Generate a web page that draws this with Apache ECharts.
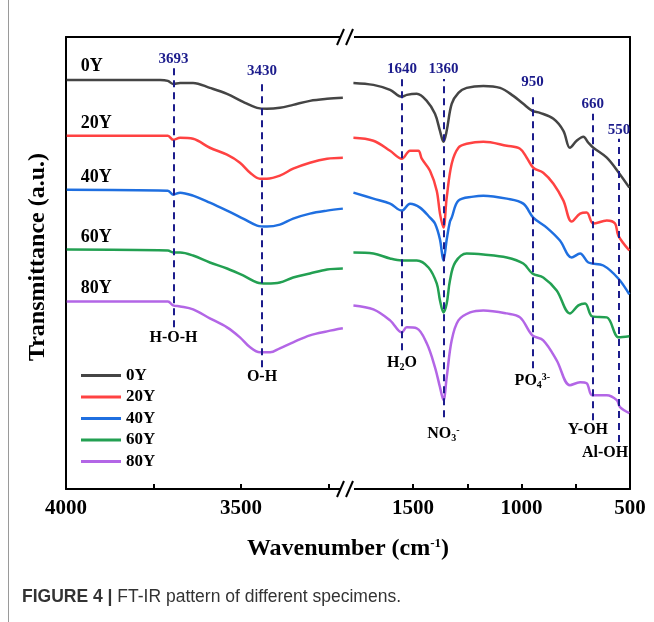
<!DOCTYPE html>
<html>
<head>
<meta charset="utf-8">
<script src="https://cdn.jsdelivr.net/npm/echarts@6/dist/echarts.min.js"></script>
<style>
  html, body { margin: 0; padding: 0; background: #fff; }
  #main { width: 654px; height: 622px; }
</style>
</head>
<body>
<div id="main"></div>
<script>
// FT-IR spectra, transmittance in arbitrary units, offset per specimen
var names = ['0Y', '20Y', '40Y', '60Y', '80Y'];
var colors = ['#454545', '#ff4242', '#1f6fe0', '#23a052', '#b366e6'];

// high wavenumber part (4000 - 3200)
var hi0Y = [[3998,410],[3731,410],[3709,409],[3694,406],[3674,407],[3637,407],[3589,402],[3540,396],[3494,388],[3454,382],[3426,381],[3389,382],[3351,385],[3303,389],[3254,391],[3209,392]];
var hi20Y = [[3998,354],[3709,354],[3694,350],[3674,352],[3637,351],[3589,342],[3540,335],[3503,327],[3474,317],[3446,311],[3426,311],[3389,314],[3351,321],[3303,327],[3254,331],[3209,332]];
var hi40Y = [[3998,300],[3709,299],[3694,295],[3674,297],[3637,294],[3589,287],[3540,279],[3494,271],[3454,264],[3426,263],[3389,265],[3351,271],[3303,276],[3254,279],[3209,281]];
var hi60Y = [[3998,240],[3709,239],[3694,237],[3674,237],[3637,234],[3589,227],[3540,221],[3494,214],[3454,207],[3426,206],[3389,207],[3351,212],[3303,216],[3254,220],[3209,221]];
var hi80Y = [[3998,188],[3709,188],[3694,184],[3674,183],[3637,180],[3589,171],[3540,162],[3503,152],[3474,142],[3446,137],[3417,137],[3389,141],[3351,147],[3303,154],[3254,158],[3209,161]];

// low wavenumber part (1800 - 500)
var lo0Y = [[1775,407],[1683,405],[1606,400],[1552,393],[1529,395],[1483,396],[1437,389],[1399,376],[1376,359],[1360,348],[1345,359],[1322,386],[1291,397],[1253,402],[1176,404],[1099,402],[1038,394],[992,386],[950,379],[915,377],[853,371],[807,359],[777,342],[746,349],[715,353],[692,347],[669,342],[607,332],[552,317],[503,302]];
var lo20Y = [[1775,352],[1683,349],[1606,339],[1552,331],[1514,339],[1476,339],[1460,331],[1422,319],[1391,299],[1376,276],[1360,262],[1345,292],[1322,326],[1291,342],[1253,346],[1176,348],[1068,344],[1007,341],[976,332],[946,322],[900,317],[853,306],[807,289],[769,268],[730,276],[700,277],[669,266],[607,269],[569,266],[554,254],[503,239]];
var lo40Y = [[1775,297],[1683,291],[1606,286],[1552,279],[1514,286],[1468,282],[1422,272],[1399,266],[1376,250],[1360,229],[1345,250],[1330,268],[1322,272],[1291,289],[1222,293],[1176,294],[1068,291],[992,286],[946,272],[884,262],[823,249],[769,232],[730,236],[692,227],[623,224],[554,211],[503,195]];
var lo60Y = [[1775,237],[1683,236],[1606,231],[1552,229],[1483,229],[1429,222],[1391,206],[1376,189],[1360,177],[1345,186],[1330,209],[1306,227],[1253,236],[1176,235],[1068,232],[992,226],[950,216],[900,212],[838,199],[777,176],[738,184],[707,186],[674,173],[607,172],[552,152],[503,153]];
var lo80Y = [[1775,184],[1683,180],[1606,169],[1552,157],[1529,162],[1483,161],[1437,146],[1399,122],[1376,102],[1360,89],[1345,112],[1322,149],[1291,169],[1237,177],[1176,179],[1068,176],[1007,172],[950,154],[900,149],[838,129],[777,104],[730,107],[700,106],[674,94],[607,94],[561,89],[546,82],[503,76]];

var hiData = [hi0Y, hi20Y, hi40Y, hi60Y, hi80Y];
var loData = [lo0Y, lo20Y, lo40Y, lo60Y, lo80Y];

// band markers: line position, texts, dashed span, label heights
var hiBands = [
  { x: 3693, top: '3693', bottom: 'H-O-H', y0: 162, y1: 422, yTop: 431, yBot: 151 },
  { x: 3440, top: '3430', bottom: 'O-H', y0: 122, y1: 409, yTop: 419, yBot: 112 }
];
var loBands = [
  { x: 1551, top: '1640', bottom: 'H{s|2}O', y0: 139, y1: 411, yTop: 421, yBot: 126 },
  { x: 1360, top: '1360', bottom: 'NO{s|3}{p|-}', y0: 72, y1: 411, yTop: 421, yBot: 55 },
  { x: 950, top: '950', bottom: 'PO{s|4}{p|3-}', y0: 121, y1: 397, yTop: 408, yBot: 108 },
  { x: 672, top: '660', bottom: 'Y-OH', xBot: 694, y0: 69, y1: 376, yTop: 386, yBot: 59 },
  { x: 551, top: '550', bottom: 'Al-OH', xBot: 615, y0: 47, y1: 351, yTop: 360, yBot: 36 }
];
// curve name tags on the left
var tagY = [424, 366, 312, 252, 201];

var serif = '"Liberation Serif", "Times New Roman", serif';
var sans = '"Liberation Sans", Arial, sans-serif';
var navy = '#1c1c8c';
var richSub = {
  s: { fontSize: 10, fontWeight: 'bold', fontFamily: serif, color: '#000', verticalAlign: 'bottom', padding: [8, 0, 0, 0] },
  p: { fontSize: 10, fontWeight: 'bold', fontFamily: serif, color: '#000', verticalAlign: 'top', padding: [0, 0, 8, 0] }
};

function bandMarks(bands) {
  var lines = [], points = [];
  bands.forEach(function (b) {
    lines.push([{ coord: [b.x, b.y0] }, { coord: [b.x, b.y1] }]);
    points.push({
      coord: [b.x, b.yTop],
      label: { formatter: b.top, color: navy, fontSize: 15 }
    });
    points.push({
      coord: [b.xBot || b.x, b.yBot],
      label: { formatter: b.bottom, color: '#000', fontSize: 16, rich: richSub }
    });
  });
  return { lines: lines, points: points };
}

var hiMarks = bandMarks(hiBands);
var loMarks = bandMarks(loBands);

var series = [];
names.forEach(function (n, i) {
  series.push({
    name: n, type: 'line', xAxisIndex: 0, yAxisIndex: 0,
    data: hiData[i], showSymbol: false, smooth: 0.35,
    lineStyle: { width: 2.5, color: colors[i] }, itemStyle: { color: colors[i] },
    z: 3,
    markPoint: {
      symbol: 'circle', symbolSize: 0, silent: true,
      label: { show: true, position: 'right', distance: 0, fontFamily: serif, fontWeight: 'bold', fontSize: 18, color: '#000', formatter: n },
      data: [{ coord: [3958, tagY[i]] }]
    }
  });
  series.push({
    name: n, type: 'line', xAxisIndex: 1, yAxisIndex: 1,
    data: loData[i], showSymbol: false, smooth: 0.35,
    lineStyle: { width: 2.5, color: colors[i] }, itemStyle: { color: colors[i] },
    z: 3
  });
});

function dashed(m) {
  return {
    silent: true, symbol: 'none', label: { show: false },
    lineStyle: { color: navy, width: 2, type: [7, 5] },
    data: m.lines
  };
}
series[0].markLine = dashed(hiMarks);
series[1].markLine = dashed(loMarks);

// label-only helper series for band names
function labelSeries(xi, m) {
  return {
    type: 'line', xAxisIndex: xi, yAxisIndex: xi, data: [], silent: true,
    markPoint: {
      symbol: 'circle', symbolSize: 0, silent: true,
      label: { show: true, position: 'inside', fontFamily: serif, fontWeight: 'bold' },
      data: m.points
    }
  };
}
series.push(labelSeries(0, hiMarks), labelSeries(1, loMarks));

var axisLineStyle = { show: true, lineStyle: { color: '#000', width: 2 } };
var tickLabel = { fontFamily: serif, fontWeight: 'bold', fontSize: 21, color: '#000', margin: 9,
  formatter: function (v) { return String(v); } };

var option = {
  backgroundColor: '#fff',
  animation: false,
  legend: {
    data: names, orient: 'vertical', left: 76, top: 362,
    icon: 'rect', itemWidth: 40, itemHeight: 3, itemGap: 4.5,
    textStyle: { fontFamily: serif, fontWeight: 'bold', fontSize: 17, color: '#000' }
  },
  grid: [
    { left: 66, top: 37, width: 280, height: 452 },
    { left: 348, top: 37, width: 282, height: 452 }
  ],
  xAxis: [
    { type: 'value', gridIndex: 0, min: 3200, max: 4000, inverse: true, position: 'bottom',
      axisLine: axisLineStyle, splitLine: { show: false },
      axisTick: { inside: true, length: 5, lineStyle: { width: 2 }, customValues: [3750, 3500, 3250] },
      axisLabel: Object.assign({ customValues: [4000, 3500] }, tickLabel) },
    { type: 'value', gridIndex: 1, min: 500, max: 1800, inverse: true, position: 'bottom',
      axisLine: axisLineStyle, splitLine: { show: false },
      axisTick: { inside: true, length: 5, lineStyle: { width: 2 }, customValues: [1500, 1250, 1000, 750] },
      axisLabel: Object.assign({ customValues: [1500, 1000, 500] }, tickLabel) },
    { type: 'value', gridIndex: 0, min: 3200, max: 4000, inverse: true, position: 'top',
      axisLine: axisLineStyle, axisTick: { show: false }, axisLabel: { show: false }, splitLine: { show: false } },
    { type: 'value', gridIndex: 1, min: 500, max: 1800, inverse: true, position: 'top',
      axisLine: axisLineStyle, axisTick: { show: false }, axisLabel: { show: false }, splitLine: { show: false } }
  ],
  yAxis: [
    { type: 'value', gridIndex: 0, min: 0, max: 453, position: 'left',
      axisLine: axisLineStyle, axisTick: { show: false }, axisLabel: { show: false }, splitLine: { show: false } },
    { type: 'value', gridIndex: 1, min: 0, max: 453, position: 'right',
      axisLine: axisLineStyle, axisTick: { show: false }, axisLabel: { show: false }, splitLine: { show: false } }
  ],
  graphic: [
    // page edge
    { type: 'line', shape: { x1: 8.5, y1: 0, x2: 8.5, y2: 622 }, style: { stroke: '#9a9a9a', lineWidth: 1 } },
    // axis break marks
    { type: 'rect', shape: { x: 340, y: 30, width: 14, height: 14 }, style: { fill: '#fff' }, z: 100 },
    { type: 'line', shape: { x1: 337, y1: 45, x2: 344, y2: 29 }, style: { stroke: '#000', lineWidth: 2 }, z: 101 },
    { type: 'line', shape: { x1: 346, y1: 45, x2: 353, y2: 29 }, style: { stroke: '#000', lineWidth: 2 }, z: 101 },
    { type: 'rect', shape: { x: 340, y: 482, width: 14, height: 14 }, style: { fill: '#fff' }, z: 100 },
    { type: 'line', shape: { x1: 337, y1: 497, x2: 344, y2: 481 }, style: { stroke: '#000', lineWidth: 2 }, z: 101 },
    { type: 'line', shape: { x1: 346, y1: 497, x2: 353, y2: 481 }, style: { stroke: '#000', lineWidth: 2 }, z: 101 },
    // y axis title
    { type: 'text', x: 38, y: 257, rotation: Math.PI / 2, z: 101,
      style: { text: 'Transmittance (a.u.)', align: 'center', verticalAlign: 'middle',
        fontFamily: serif, fontWeight: 'bold', fontSize: 24, fill: '#000' } },
    // x axis title
    { type: 'text', x: 348, y: 549, z: 101,
      style: { text: 'Wavenumber (cm{p|-1})', align: 'center', verticalAlign: 'middle',
        fontFamily: serif, fontWeight: 'bold', fontSize: 24, fill: '#000',
        rich: { p: { fontFamily: serif, fontWeight: 'bold', fontSize: 13, verticalAlign: 'top', padding: [0, 0, 11, 0] } } } },
    // caption
    { type: 'text', left: 22, top: 588, z: 101,
      style: { text: '{b|FIGURE 4 |} FT-IR pattern of different specimens.', fontFamily: sans,
        fontSize: 17.5, fill: '#333',
        rich: { b: { fontFamily: sans, fontWeight: 'bold', fontSize: 17.5, color: '#222' } } } }
  ],
  series: series
};

var chart = echarts.init(document.getElementById('main'));
chart.setOption(option);
</script>
</body>
</html>
